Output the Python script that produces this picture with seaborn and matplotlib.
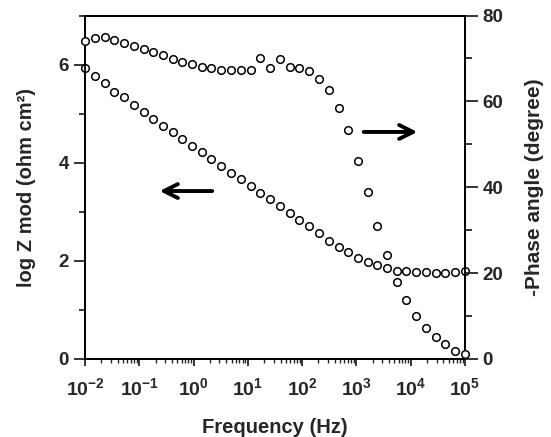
import numpy as np
import pandas as pd
import seaborn as sns
import matplotlib
matplotlib.use("Agg")
import matplotlib.pyplot as plt
from matplotlib.ticker import MultipleLocator, LogLocator, NullFormatter, FixedLocator

# log10 of frequency (Hz)
log_freq = [-2.00, -1.82, -1.64, -1.46, -1.28, -1.10, -0.92, -0.74, -0.56, -0.38,
            -0.21, -0.03, 0.15, 0.33, 0.51, 0.69, 0.87, 1.05, 1.23, 1.41,
            1.59, 1.77, 1.95, 2.13, 2.31, 2.49, 2.67, 2.85, 3.03, 3.21,
            3.38, 3.56, 3.74, 3.92, 4.10, 4.28, 4.46, 4.64, 4.82, 5.00]
log_z = [5.94, 5.76, 5.63, 5.45, 5.33, 5.18, 5.04, 4.90, 4.75, 4.63,
         4.49, 4.34, 4.21, 4.07, 3.93, 3.80, 3.67, 3.53, 3.39, 3.27,
         3.12, 2.98, 2.84, 2.71, 2.57, 2.41, 2.29, 2.18, 2.06, 1.98,
         1.92, 1.85, 1.80, 1.80, 1.78, 1.78, 1.76, 1.76, 1.78, 1.80]
phase = [74.0, 74.7, 74.9, 74.2, 73.5, 72.8, 72.1, 71.4, 70.7, 69.8,
         69.1, 68.8, 68.1, 67.7, 67.4, 67.2, 67.2, 67.2, 70.2, 67.7,
         69.8, 68.1, 67.7, 67.0, 65.1, 62.6, 58.4, 53.3, 46.0, 38.8,
         30.9, 24.2, 17.9, 13.7, 10.0, 7.2, 5.1, 3.5, 1.9, 1.2]
xtick_exp = [-2, -1, 0, 1, 2, 3, 4, 5]

df = pd.DataFrame({"freq": 10.0 ** np.array(log_freq), "logz": log_z, "phase": phase})

sns.set_style("ticks")
plt.rcParams['font.family'] = ['Liberation Sans', 'DejaVu Sans']
plt.rcParams['font.weight'] = 'bold'
plt.rcParams['mathtext.fontset'] = 'custom'
plt.rcParams['mathtext.rm'] = 'Liberation Sans:bold'
plt.rcParams['mathtext.bf'] = 'Liberation Sans:bold'

fig = plt.figure(figsize=(5.51, 4.37), dpi=100)
ax = fig.add_axes([0.1543, 0.1785, 0.6896, 0.786])
ax2 = ax.twinx()

mk = dict(marker="o", s=30, facecolor="white", edgecolor="black", linewidth=1.1,
          clip_on=False, zorder=5, legend=False)
sns.scatterplot(data=df, x="freq", y="logz", ax=ax, **mk)
sns.scatterplot(data=df, x="freq", y="phase", ax=ax2, **mk)

ax.set_xscale("log")
ax.set_xlim(1e-2, 1e5)
ax.set_ylim(0, 7)
ax2.set_ylim(0, 80)

ax.xaxis.set_major_locator(FixedLocator([10.0 ** e for e in xtick_exp]))
ax.set_xticklabels([r"$\mathbf{10^{%d}}$" % e for e in xtick_exp])
ax.xaxis.set_minor_locator(LogLocator(base=10, subs=np.arange(2, 10), numticks=20))
ax.xaxis.set_minor_formatter(NullFormatter())
ax.yaxis.set_major_locator(MultipleLocator(2))
ax.yaxis.set_minor_locator(MultipleLocator(1))
ax2.yaxis.set_major_locator(MultipleLocator(20))
ax2.yaxis.set_minor_locator(MultipleLocator(10))

for a in (ax, ax2):
    for s in a.spines.values():
        s.set_linewidth(1.3)
        s.set_color("black")
ax.tick_params(axis="x", which="major", direction="out", length=5, width=1.3, labelsize=14, pad=8)
ax.tick_params(axis="x", which="minor", direction="out", length=3, width=1.0)
ax.tick_params(axis="y", which="major", direction="out", length=8, width=1.3, labelsize=13.5)
ax.tick_params(axis="y", which="minor", direction="out", length=4, width=1.3)
ax2.tick_params(axis="y", which="major", direction="out", length=9, width=1.3, labelsize=13.5)
ax2.tick_params(axis="y", which="minor", direction="out", length=5, width=1.3)

ax.set_xlabel("Frequency (Hz)", fontsize=14.5, fontweight="bold", labelpad=14)
ax.set_ylabel("log Z mod (ohm cm²)", fontsize=14.5, fontweight="bold", labelpad=16)
ax2.set_ylabel("-Phase angle (degree)", fontsize=15, fontweight="bold", rotation=90, labelpad=16)

arrow = dict(arrowstyle="->,head_length=1.0,head_width=0.5", color="black", lw=2.8)
ax.annotate("", xy=(0.189, 0.489), xytext=(0.342, 0.489), xycoords="axes fraction",
            textcoords="axes fraction", arrowprops=arrow)
ax.annotate("", xy=(0.882, 0.661), xytext=(0.726, 0.661), xycoords="axes fraction",
            textcoords="axes fraction", arrowprops=arrow)

plt.savefig("out.png", dpi=100)
